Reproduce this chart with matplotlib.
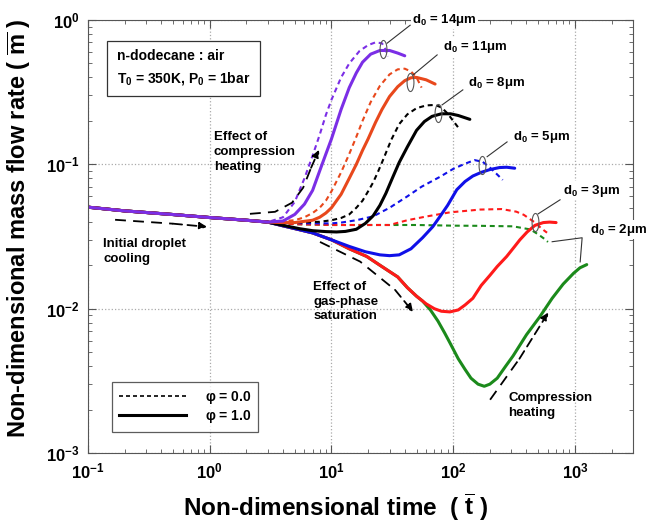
import numpy as np
import matplotlib
matplotlib.use('Agg')
import matplotlib.pyplot as plt
from matplotlib.lines import Line2D
from matplotlib.path import Path
from matplotlib.ticker import FuncFormatter, NullFormatter, LogLocator

plt.rcParams['font.family'] = ['Liberation Sans', 'DejaVu Sans']
plt.rcParams['font.weight'] = 'bold'
plt.rcParams['mathtext.fontset'] = 'custom'
plt.rcParams['mathtext.rm'] = 'Liberation Sans:bold'
plt.rcParams['mathtext.bf'] = 'Liberation Sans:bold'
plt.rcParams['mathtext.it'] = 'Liberation Sans:bold:italic'
plt.rcParams['mathtext.default'] = 'rm'

# early part, identical for every case
t0 = [0.1, 0.2, 0.5, 1.0, 2.0, 3.0]
m0 = [0.0505, 0.0476, 0.0449, 0.0428, 0.0410, 0.0398]

# phi = 1.0 (solid)
t_s14 = [4, 5, 6, 7, 8, 9, 10, 12, 14, 16, 18, 21, 25, 30, 35, 40]
m_s14 = [0.0405, 0.045, 0.053, 0.066, 0.090, 0.118, 0.150, 0.240, 0.340, 0.430, 0.510, 0.580, 0.615, 0.615, 0.590, 0.565]
t_s11 = [4, 5, 7, 8, 9, 10, 12, 14, 16, 18, 20, 23, 26, 30, 35, 40, 45, 50, 60, 71]
m_s11 = [0.0395, 0.0395, 0.041, 0.043, 0.046, 0.050, 0.062, 0.080, 0.100, 0.125, 0.150, 0.195, 0.240, 0.295, 0.345, 0.380, 0.398, 0.400, 0.385, 0.360]
t_s8 = [4, 5.5, 7, 9, 11, 13, 16, 19, 22, 25, 28, 32, 36, 42, 50, 58, 67, 80, 95, 110, 137]
m_s8 = [0.0378, 0.0358, 0.0347, 0.0342, 0.034, 0.0343, 0.0355, 0.039, 0.044, 0.052, 0.063, 0.082, 0.103, 0.132, 0.172, 0.198, 0.215, 0.224, 0.224, 0.218, 0.205]
t_s5 = [4, 5.5, 7, 10, 14, 19, 25, 30, 36, 45, 56, 68, 78, 90, 107, 125, 145, 170, 200, 240, 275, 320]
m_s5 = [0.0375, 0.0352, 0.0335, 0.030, 0.027, 0.0248, 0.0236, 0.0233, 0.0236, 0.026, 0.031, 0.037, 0.0436, 0.052, 0.0667, 0.076, 0.083, 0.088, 0.092, 0.095, 0.0955, 0.094]
t_s3 = [4, 5.5, 7, 10, 14, 19.5, 25, 35, 42, 50, 60, 70, 80, 94, 110, 125, 145, 170, 200, 230, 275, 320, 353, 405, 470, 550, 620, 700]
m_s3 = [0.0375, 0.0352, 0.0335, 0.030, 0.026, 0.023, 0.020, 0.0166, 0.0140, 0.0122, 0.0108, 0.0100, 0.0096, 0.0095, 0.0098, 0.0106, 0.0118, 0.0145, 0.017, 0.0196, 0.023, 0.027, 0.030, 0.034, 0.0378, 0.0395, 0.0398, 0.0395]
t_s2 = [4, 5.5, 7, 10, 14, 19.5, 25, 35, 42, 50, 56, 65, 75, 85, 94, 110, 125, 140, 160, 180, 200, 230, 270, 310, 400, 515, 650, 800, 975, 1100, 1250]
m_s2 = [0.0375, 0.0352, 0.0335, 0.030, 0.026, 0.023, 0.020, 0.0166, 0.0140, 0.0122, 0.0113, 0.0098, 0.0082, 0.0068, 0.0058, 0.0045, 0.0038, 0.0033, 0.0030, 0.0029, 0.0030, 0.0033, 0.0040, 0.0047, 0.0066, 0.0088, 0.0118, 0.0148, 0.0176, 0.0192, 0.0202]

# phi = 0.0 (dashed)
t_d14 = [4, 5, 6, 7, 8, 9, 10, 12, 14, 17, 20, 23, 26, 28, 29]
m_d14 = [0.043, 0.055, 0.080, 0.115, 0.160, 0.220, 0.280, 0.400, 0.500, 0.610, 0.670, 0.700, 0.690, 0.620, 0.560]
t_d11 = [5, 6, 7, 8, 9, 10, 12, 14, 16, 18, 21, 25, 30, 35, 40, 45, 50, 55]
m_d11 = [0.041, 0.043, 0.046, 0.050, 0.056, 0.065, 0.088, 0.118, 0.155, 0.200, 0.270, 0.350, 0.420, 0.455, 0.460, 0.440, 0.400, 0.340]
t_d8 = [5, 8, 10, 12, 14, 16, 18, 20, 22, 24, 26, 28, 31, 36, 42, 50, 60, 71, 80, 90, 100, 110]
m_d8 = [0.0395, 0.040, 0.041, 0.0425, 0.045, 0.050, 0.056, 0.065, 0.075, 0.088, 0.103, 0.120, 0.148, 0.190, 0.222, 0.245, 0.256, 0.258, 0.248, 0.225, 0.200, 0.180]
t_d5 = [6, 10, 12, 16, 22, 30, 42, 55, 78, 100, 125, 150, 175, 200, 230, 255]
m_d5 = [0.039, 0.039, 0.0395, 0.041, 0.0436, 0.050, 0.060, 0.070, 0.082, 0.093, 0.101, 0.107, 0.104, 0.095, 0.085, 0.078]
t_d3 = [5, 10, 20, 30, 42, 60, 94, 166, 250, 330, 380, 470, 530, 590]
m_d3 = [0.0385, 0.038, 0.038, 0.038, 0.041, 0.0435, 0.0465, 0.0486, 0.049, 0.047, 0.0447, 0.0395, 0.036, 0.0336]
t_d2 = [5, 10, 20, 50, 100, 166, 310, 430, 500, 560, 600]
m_d2 = [0.0385, 0.038, 0.038, 0.038, 0.0376, 0.0375, 0.0372, 0.0354, 0.0327, 0.0305, 0.029]

c14, c11, c8, c5, c3, c2 = '#7b2ee6', '#e8481c', '#000000', '#1010e8', '#ff1a1a', '#1b8a1b'

# ellipses marking the end of each pair, and d0 labels
ell_t = [26.5, 44.3, 75.2, 173, 471]
ell_m = [0.63, 0.372, 0.227, 0.099, 0.040]
d0_text = ['14', '11', '8', '5', '3', '2']
d0_pos_t = [45.9, 82.6, 132, 310, 800, 1334]
d0_pos_m = [1.0, 0.65, 0.367, 0.155, 0.0656, 0.0352]
lead_from_t = [28.6, 46.8, 81, 190, 499]
lead_from_m = [0.69, 0.416, 0.258, 0.113, 0.0454]
lead_to_t = [44.3, 73.8, 120, 277, 755]
lead_to_m = [0.92, 0.573, 0.328, 0.143, 0.0568]

fig = plt.figure(figsize=(6.46, 5.25), dpi=100)
ax = fig.add_axes([0.1362, 0.1371, 0.8437, 0.8248])
ax.set_xscale('log')
ax.set_yscale('log')
ax.set_xlim(0.1, 3000)
ax.set_ylim(1e-3, 1)

dash = dict(lw=1.5, dashes=(2.4, 1.8))
for t, m, c in [(t_d2, m_d2, c2), (t_d3, m_d3, c3), (t_d5, m_d5, c5),
                (t_d8, m_d8, c8), (t_d11, m_d11, c11), (t_d14, m_d14, c14)]:
    ax.plot(t0 + t, m0 + m, color=c, **dash)
for t, m, c in [(t_s2, m_s2, c2), (t_s3, m_s3, c3), (t_s5, m_s5, c5),
                (t_s8, m_s8, c8), (t_s11, m_s11, c11), (t_s14, m_s14, c14)]:
    ax.plot(t0 + t, m0 + m, color=c, lw=2.2, solid_capstyle='round')

th = np.linspace(0, 2 * np.pi, 60)
ell_marker = Path(np.column_stack([0.38 * np.cos(th), np.sin(th)]), closed=True)
ax.plot(ell_t, ell_m, ls='none', marker=ell_marker, ms=13, mfc='none',
        mec='#555555', mew=0.8, zorder=5)

for i in range(5):
    ax.plot([lead_from_t[i], lead_to_t[i]], [lead_from_m[i], lead_to_m[i]],
            color='#333333', lw=0.8)
for i, s in enumerate(d0_text):
    ax.text(d0_pos_t[i], d0_pos_m[i], r'd$_0$ = %s$\mu$m' % s, fontsize=9.5,
            ha='left', va='center', clip_on=False, zorder=10,
            bbox=dict(boxstyle='square,pad=0.1', fc='white', ec='none'))
# d0 = 2um bracket
ax.plot([650, 1146, 1104], [0.0291, 0.031, 0.0211], color='#333333', lw=0.8)

# annotations with dashed arrows
def dashed_arrow(ts, ms):
    ax.plot(ts[:-1], ms[:-1], color='k', lw=1.3, dashes=(6, 4))
    ax.annotate('', xy=(ts[-1], ms[-1]), xytext=(ts[-2], ms[-2]),
                arrowprops=dict(arrowstyle='-|>', color='k', lw=1.3,
                                mutation_scale=11, shrinkA=0, shrinkB=0,
                                linestyle=(0, (5, 3))))

dashed_arrow([0.167, 0.5, 0.95], [0.0413, 0.0388, 0.0369])
dashed_arrow([2.14, 3.44, 4.74, 5.85, 6.8, 7.9], [0.0454, 0.0469, 0.0542, 0.0688, 0.0946, 0.126])
dashed_arrow([8.05, 17.2, 33.3, 46.8], [0.029, 0.0212, 0.0135, 0.0095])
dashed_arrow([201, 350, 604], [0.00234, 0.0045, 0.0094])

ax.text(1.08, 0.122, 'Effect of\ncompression\nheating', fontsize=9.5, va='center', linespacing=1.35)
ax.text(0.133, 0.0248, 'Initial droplet\ncooling', fontsize=9.5, va='center', linespacing=1.35)
ax.text(7.06, 0.0112, 'Effect of\ngas-phase\nsaturation', fontsize=9.5, va='center', linespacing=1.25)
ax.text(283, 0.00213, 'Compression\nheating', fontsize=9.5, va='center', linespacing=1.25)

ax.text(0.053, 0.889, 'n-dodecane : air\nT$_0$ = 350K, P$_0$ = 1bar', transform=ax.transAxes,
        fontsize=10, va='center', linespacing=1.5,
        bbox=dict(boxstyle='square,pad=0.7', fc='white', ec='#333333', lw=0.9))

handles = [Line2D([], [], color='k', lw=1.2, dashes=(2.4, 1.8)),
           Line2D([], [], color='k', lw=2.2)]
leg = ax.legend(handles, [r'$\varphi$ = 0.0', r'$\varphi$ = 1.0'], loc='lower left',
                bbox_to_anchor=(0.044, 0.048), borderaxespad=0, fancybox=False,
                edgecolor='#333333', handlelength=4.8, handletextpad=1.4,
                fontsize=10, borderpad=0.5, labelspacing=0.2)
leg.get_frame().set_linewidth(0.9)

ax.xaxis.set_major_locator(LogLocator(base=10, numticks=10))
ax.yaxis.set_major_locator(LogLocator(base=10, numticks=10))
fmt = FuncFormatter(lambda v, p: r'$\mathbf{10^{%d}}$' % round(np.log10(v)))
ax.xaxis.set_major_formatter(fmt)
ax.yaxis.set_major_formatter(fmt)
ax.xaxis.set_minor_formatter(NullFormatter())
ax.yaxis.set_minor_formatter(NullFormatter())
ax.tick_params(which='both', direction='in', top=True, right=True, color='#555555')
ax.tick_params(which='major', length=6, labelsize=12, pad=6)
ax.tick_params(which='minor', length=3)
ax.grid(True, which='major', ls=':', color='#aaaaaa', lw=0.9)
for sp in ax.spines.values():
    sp.set_color('#555555')

ax.set_xlabel(r'Non-dimensional time  ( $\overline{t}$ )', fontsize=17.5, fontweight='bold')
ax.set_ylabel(r'Non-dimensional mass flow rate ( $\overline{m}$ )', fontsize=17, fontweight='bold')
ax.xaxis.set_label_coords(0.455, -0.09)
ax.yaxis.set_label_coords(-0.10, 0.52)

fig.savefig('out.png', dpi=100)
